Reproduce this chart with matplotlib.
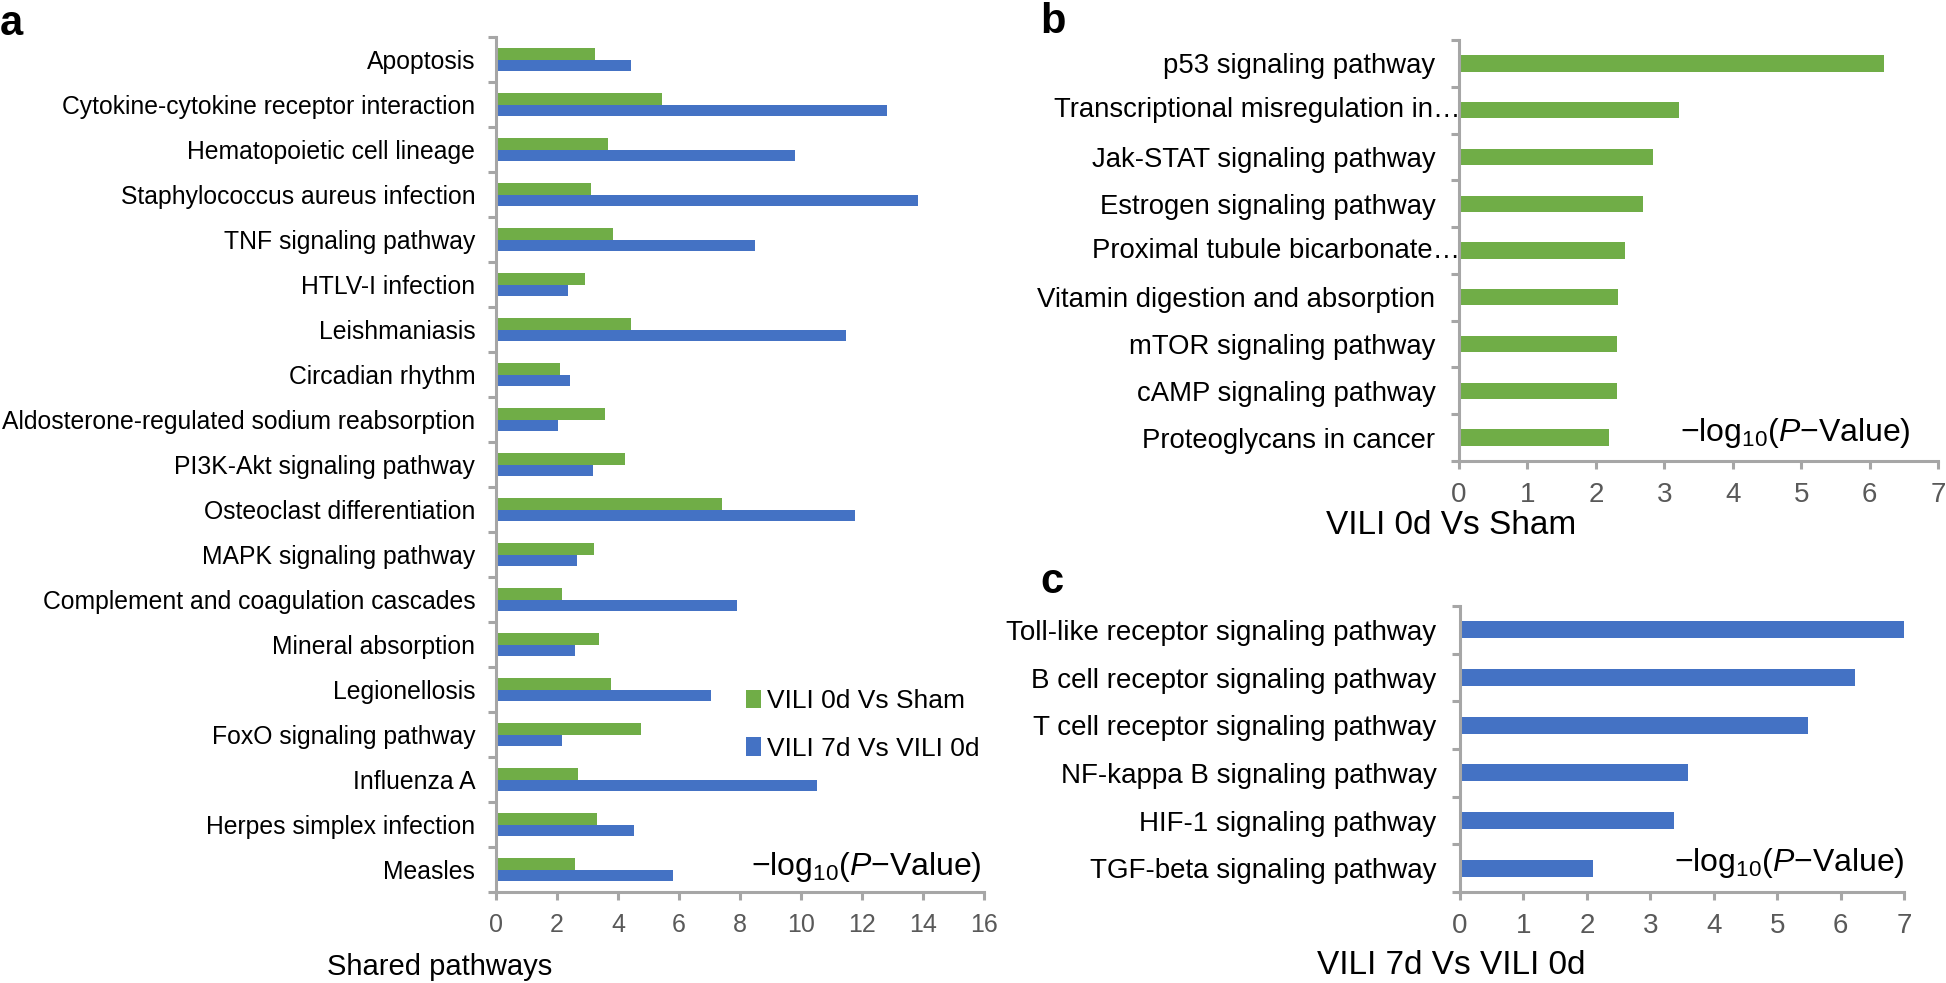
import matplotlib
matplotlib.use("Agg")
import matplotlib.pyplot as plt
import numpy as np
from matplotlib.ticker import FixedLocator

plt.rcParams['font.family'] = ['Liberation Sans', 'DejaVu Sans']
plt.rcParams['mathtext.fontset'] = 'custom'
plt.rcParams['mathtext.rm'] = 'Liberation Sans'
plt.rcParams['mathtext.it'] = 'Liberation Sans:italic'

# ---------------- data ----------------
shared_pathways = [
    "Apoptosis", "Cytokine-cytokine receptor interaction", "Hematopoietic cell lineage",
    "Staphylococcus aureus infection", "TNF signaling pathway", "HTLV-I infection",
    "Leishmaniasis", "Circadian rhythm", "Aldosterone-regulated sodium reabsorption",
    "PI3K-Akt signaling pathway", "Osteoclast differentiation", "MAPK signaling pathway",
    "Complement and coagulation cascades", "Mineral absorption", "Legionellosis",
    "FoxO signaling pathway", "Influenza A", "Herpes simplex infection", "Measles",
]
shared_0d_vs_sham = [3.26, 5.45, 3.68, 3.12, 3.85, 2.91, 4.43, 2.10, 3.58, 4.24,
                     7.40, 3.20, 2.18, 3.37, 3.78, 4.76, 2.68, 3.31, 2.60]
shared_7d_vs_0d = [4.41, 12.83, 9.81, 13.83, 8.48, 2.35, 11.48, 2.41, 2.02, 3.18,
                   11.77, 2.66, 7.90, 2.58, 7.05, 2.18, 10.54, 4.53, 5.80]

b_pathways = [
    "p53 signaling pathway", "Transcriptional misregulation in\u2026",
    "Jak-STAT signaling pathway", "Estrogen signaling pathway",
    "Proximal tubule bicarbonate\u2026", "Vitamin digestion and absorption",
    "mTOR signaling pathway", "cAMP signaling pathway", "Proteoglycans in cancer",
]
b_values = [6.21, 3.22, 2.83, 2.69, 2.42, 2.32, 2.31, 2.31, 2.19]

c_pathways = [
    "Toll-like receptor signaling pathway", "B cell receptor signaling pathway",
    "T cell receptor signaling pathway", "NF-kappa B signaling pathway",
    "HIF-1 signaling pathway", "TGF-beta signaling pathway",
]
c_values = [7.0, 6.23, 5.48, 3.59, 3.38, 2.10]

legend_labels = ["VILI 0d Vs Sham", "VILI 7d Vs VILI 0d"]
a_xticks = [0, 2, 4, 6, 8, 10, 12, 14, 16]
bc_xticks = [0, 1, 2, 3, 4, 5, 6, 7]

# ---------------- style ----------------
GREEN = "#70AD47"
BLUE = "#4472C4"
AXC = "#A6A6A6"
TICKC = "#595959"
W, H = 1946, 983
fig = plt.figure(figsize=(W / 100, H / 100), dpi=100)


def fx(px):
    return px / W


def fy(py):
    return 1 - py / H


def style_axis(ax, n, xticks, label_pad, labfs, tickfs):
    for s in ["top", "right"]:
        ax.spines[s].set_visible(False)
    for s in ["left", "bottom"]:
        ax.spines[s].set_color(AXC)
        ax.spines[s].set_linewidth(2.2)
    ax.set_ylim(n - 0.5, -0.5)
    ax.set_xlim(xticks[0], xticks[-1])
    ax.set_xticks(xticks)
    ax.tick_params(axis='x', length=6, width=2.2, color=AXC, labelsize=tickfs,
                   labelcolor=TICKC, pad=9)
    ax.tick_params(axis='y', which='major', length=0, labelsize=labfs, pad=label_pad,
                   labelcolor='black')
    ax.yaxis.set_minor_locator(FixedLocator(np.arange(-0.5, n, 1.0)))
    ax.tick_params(axis='y', which='minor', length=6, width=2.2, color=AXC)


# ---------------- panel a ----------------
axa = fig.add_axes([fx(496), fy(892), fx(984 - 496), (892 - 37) / H])
n = len(shared_pathways)
y = np.arange(n)
h = 0.26
axa.barh(y - h / 2, shared_0d_vs_sham, height=h, color=GREEN, label=legend_labels[0])
axa.barh(y + h / 2, shared_7d_vs_0d, height=h, color=BLUE, label=legend_labels[1])
axa.set_yticks(y)
axa.set_yticklabels(shared_pathways)
style_axis(axa, n, a_xticks, 15, 17.8, 18)
axa.legend(loc='upper left', bbox_to_anchor=(fx(746), fy(689)),
           bbox_transform=fig.transFigure, frameon=False, fontsize=19,
           handlelength=0.55, handleheight=0.7, handletextpad=0.25, labelspacing=0.9,
           borderaxespad=0, borderpad=0)

# ---------------- panel b ----------------
BFS = 19.8
axb = fig.add_axes([fx(1459), fy(461), fx(1938 - 1459), (461 - 40) / H])
nb = len(b_pathways)
axb.barh(np.arange(nb), b_values, height=0.35, color=GREEN)
axb.set_yticks(np.arange(nb))
axb.set_yticklabels(["" if lab.endswith("\u2026") else lab for lab in b_pathways])
style_axis(axb, nb, bc_xticks, 17, BFS, 20)
for i, lab in enumerate(b_pathways):
    if lab.endswith("\u2026"):
        axb.text(0.02, i, lab, ha='right', va='center', fontsize=BFS)

# ---------------- panel c ----------------
axc = fig.add_axes([fx(1460), fy(892), fx(1904 - 1460), (892 - 606) / H])
nc = len(c_pathways)
axc.barh(np.arange(nc), c_values, height=0.36, color=BLUE)
axc.set_yticks(np.arange(nc))
axc.set_yticklabels(c_pathways)
style_axis(axc, nc, bc_xticks, 17, 20, 20)

# ---------------- texts ----------------
pv = "\u2212log$_{10}$($\\mathit{P}$\u2212Value)"
fig.text(fx(982), fy(867), pv, ha='right', va='center', fontsize=23)
fig.text(fx(1911), fy(433), pv, ha='right', va='center', fontsize=23)
fig.text(fx(1905), fy(863), pv, ha='right', va='center', fontsize=23)

fig.text(fx(440), fy(967), "Shared pathways", ha='center', va='center', fontsize=21)
fig.text(fx(1451), fy(525), "VILI 0d Vs Sham", ha='center', va='center', fontsize=24)
fig.text(fx(1451), fy(965), "VILI 7d Vs VILI 0d", ha='center', va='center', fontsize=24)

fig.text(fx(0), fy(24), "a", ha='left', va='center', fontsize=30, fontweight='bold')
fig.text(fx(1040), fy(22), "b", ha='left', va='center', fontsize=30, fontweight='bold')
fig.text(fx(1040), fy(582), "c", ha='left', va='center', fontsize=30, fontweight='bold')

fig.savefig("out.png", dpi=100)
